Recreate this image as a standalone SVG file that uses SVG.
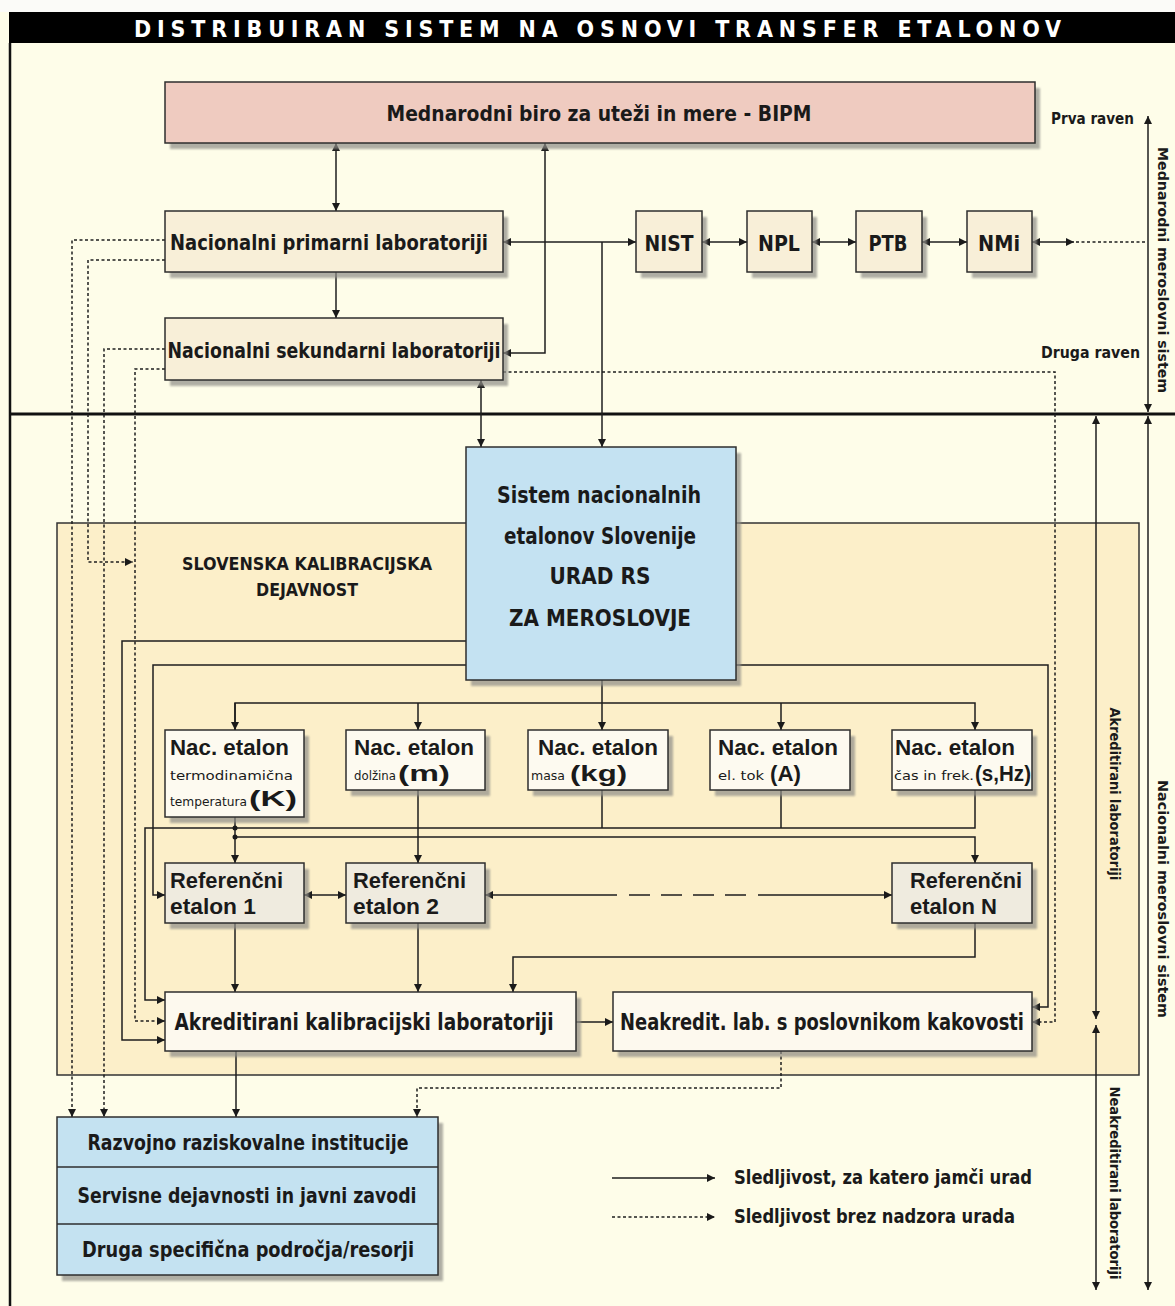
<svg xmlns="http://www.w3.org/2000/svg" width="1175" height="1306" viewBox="0 0 1175 1306">
<defs>
<marker id="ah" viewBox="0 0 10 10" refX="10" refY="5" markerWidth="9" markerHeight="8" orient="auto-start-reverse" markerUnits="userSpaceOnUse"><path d="M0,0 L10,5 L0,10 z" fill="#1a1a1a"/></marker>
<filter id="sb" x="-5%" y="-5%" width="110%" height="110%"><feGaussianBlur stdDeviation="1.3"/></filter>
<style>
.bx{stroke:#2e2e2e;stroke-width:1.5}
.sh{fill:#8f8e88;opacity:.7;filter:url(#sb)}
.ln{fill:none;stroke:#1e1e1e;stroke-width:1.5}
.dt{fill:none;stroke:#1e1e1e;stroke-width:1.5;stroke-dasharray:3 2.5}
.cn{font-family:"Liberation Sans Narrow","DejaVu Sans Condensed","Liberation Sans",sans-serif;font-weight:bold;fill:#1a1a1a}
.md{font-family:"Liberation Sans",Arial,sans-serif;font-weight:bold;fill:#1a1a1a}
.sm{font-family:"Liberation Sans Narrow","DejaVu Sans Condensed","Liberation Sans",sans-serif;font-size:13px;fill:#1a1a1a}
.c{text-anchor:middle}
.f20{font-size:22px}
.f21{font-size:23px}
.f22{font-size:22px}
.f14{font-size:14px}
</style>
</defs>
<rect x="0" y="0" width="1175" height="1306" fill="#fefde9"/>
<rect x="0" y="0" width="1175" height="12" fill="#fbfbf8"/>
<!-- title -->
<rect x="9" y="12" width="1166" height="31" fill="#000"/>
<text x="134" y="37" font-family="Liberation Sans Narrow,DejaVu Sans Condensed,Liberation Sans,sans-serif" font-weight="bold" font-size="23" fill="#fff" textLength="927" lengthAdjust="spacing">DISTRIBUIRAN SISTEM NA OSNOVI TRANSFER ETALONOV</text>
<line x1="10" y1="43" x2="10" y2="1306" stroke="#111" stroke-width="2.5"/>
<line x1="9" y1="414" x2="1175" y2="414" stroke="#111" stroke-width="3"/>

<!-- region -->
<g id="region">
<rect x="57" y="523" width="1082" height="552" fill="#fcefc9" stroke="#333" stroke-width="1.5"/>
<text class="cn c" x="307" y="570" font-size="17" textLength="250" lengthAdjust="spacingAndGlyphs">SLOVENSKA KALIBRACIJSKA</text>
<text class="cn c" x="307" y="596" font-size="17" textLength="102" lengthAdjust="spacingAndGlyphs">DEJAVNOST</text>
</g>

<!-- side labels -->
<g id="levels">
<text class="cn" x="1051" y="124" font-size="15" textLength="83" lengthAdjust="spacingAndGlyphs">Prva raven</text>
<text class="cn" x="1041" y="358" font-size="16" textLength="99" lengthAdjust="spacingAndGlyphs">Druga raven</text>
<text class="cn c f14" transform="translate(1158,270) rotate(90)" textLength="246" lengthAdjust="spacingAndGlyphs">Mednarodni meroslovni sistem</text>
<text class="cn c f14" transform="translate(1158,899) rotate(90)" textLength="238" lengthAdjust="spacingAndGlyphs">Nacionalni meroslovni sistem</text>
<text class="cn c f14" transform="translate(1110,794) rotate(90)" textLength="173" lengthAdjust="spacingAndGlyphs">Akreditirani laboratoriji</text>
<text class="cn c f14" transform="translate(1110,1183) rotate(90)" textLength="193" lengthAdjust="spacingAndGlyphs">Neakreditirani laboratoriji</text>
</g>

<!-- connectors -->
<g id="connectors">
<path class="ln" d="M1148,116 V412" marker-start="url(#ah)" marker-end="url(#ah)"/>
<path class="ln" d="M1148,416 V1290" marker-start="url(#ah)" marker-end="url(#ah)"/>
<path class="ln" d="M1096,416 V1019" marker-start="url(#ah)" marker-end="url(#ah)"/>
<path class="ln" d="M1096,1025 V1290" marker-start="url(#ah)" marker-end="url(#ah)"/>

<path class="ln" d="M336,143 V211" marker-start="url(#ah)" marker-end="url(#ah)"/>
<path class="ln" d="M545,143 V353 H503" marker-start="url(#ah)" marker-end="url(#ah)"/>
<path class="ln" d="M503,242 H636" marker-start="url(#ah)" marker-end="url(#ah)"/>
<path class="ln" d="M602,242 V447" marker-end="url(#ah)"/>
<path class="ln" d="M702,242 H747" marker-start="url(#ah)" marker-end="url(#ah)"/>
<path class="ln" d="M812,242 H856" marker-start="url(#ah)" marker-end="url(#ah)"/>
<path class="ln" d="M922,242 H967" marker-start="url(#ah)" marker-end="url(#ah)"/>
<path class="ln" d="M1032,242 H1074" marker-start="url(#ah)" marker-end="url(#ah)"/>
<path class="dt" d="M1076,242 H1147"/>
<path class="ln" d="M336,272 V318" marker-end="url(#ah)"/>
<path class="ln" d="M481,380 V447" marker-start="url(#ah)" marker-end="url(#ah)"/>

<path class="dt" d="M165,240 H72 V1117" marker-end="url(#ah)"/>
<path class="dt" d="M165,260 H88 V562 H133" marker-end="url(#ah)"/>
<path class="dt" d="M165,349 H104 V1117" marker-end="url(#ah)"/>
<path class="dt" d="M165,369 H135 V1021 H165" marker-end="url(#ah)"/>
<path class="dt" d="M503,372 H1055 V1022 H1032" marker-end="url(#ah)"/>
<path class="dt" d="M781,1051 V1088 H417 V1117" marker-end="url(#ah)"/>

<path class="ln" d="M466,641 H122 V1040 H165" marker-end="url(#ah)"/>
<path class="ln" d="M466,665 H153 V895 H165" marker-end="url(#ah)"/>
<path class="ln" d="M736,665 H1048 V1007 H1032" marker-end="url(#ah)"/>

<path class="ln" d="M602,680 V730" marker-end="url(#ah)"/>
<path class="ln" d="M235,730 V703 H975 V730" marker-end="url(#ah)"/>
<path class="ln" d="M235,703 V730" marker-end="url(#ah)"/>
<path class="ln" d="M418,703 V730" marker-end="url(#ah)"/>
<path class="ln" d="M781,703 V730" marker-end="url(#ah)"/>

<path class="ln" d="M235,817 V863" marker-end="url(#ah)"/>
<path class="ln" d="M418,790 V863" marker-end="url(#ah)"/>
<path class="ln" d="M602,790 V828"/>
<path class="ln" d="M781,790 V828"/>
<path class="ln" d="M975,790 V828 H145 V1000 H165" marker-end="url(#ah)"/>
<path class="ln" d="M235,837 H975 V863" marker-end="url(#ah)"/>
<circle cx="235" cy="828" r="2.5" fill="#1a1a1a"/>
<circle cx="235" cy="837" r="2.5" fill="#1a1a1a"/>

<path class="ln" d="M304,895 H346" marker-start="url(#ah)" marker-end="url(#ah)"/>
<path class="ln" d="M485,895 H617" marker-start="url(#ah)"/>
<path class="ln" d="M629,895 H750" style="stroke-dasharray:21 11"/>
<path class="ln" d="M758,895 H892" marker-end="url(#ah)"/>

<path class="ln" d="M235,923 V992" marker-end="url(#ah)"/>
<path class="ln" d="M418,923 V992" marker-end="url(#ah)"/>
<path class="ln" d="M975,923 V957 H513 V992" marker-end="url(#ah)"/>
<path class="ln" d="M576,1022 H613" marker-end="url(#ah)"/>
<path class="ln" d="M236,1051 V1117" marker-end="url(#ah)"/>

<path class="ln" d="M612,1178 H715" marker-end="url(#ah)"/>
<path class="dt" d="M612,1217 H715" marker-end="url(#ah)"/>
</g>

<!-- nodes -->
<g id="bipm">
<rect class="sh" x="170" y="88" width="870" height="61"/>
<rect class="bx" x="165" y="82" width="870" height="61" fill="#efcbc0"/>
<text class="cn c f20" x="599" y="121" textLength="425" lengthAdjust="spacingAndGlyphs">Mednarodni biro za uteži in mere - BIPM</text>
</g>
<g id="primarni">
<rect class="sh" x="170" y="217" width="338" height="61"/>
<rect class="bx" x="165" y="211" width="338" height="61" fill="#f8efd8"/>
<text class="cn c f20" x="329" y="250" textLength="318" lengthAdjust="spacingAndGlyphs">Nacionalni primarni laboratoriji</text>
</g>
<g id="sekundarni">
<rect class="sh" x="170" y="324" width="338" height="62"/>
<rect class="bx" x="165" y="318" width="338" height="62" fill="#f8efd8"/>
<text class="cn c f20" x="334" y="358" textLength="333" lengthAdjust="spacingAndGlyphs">Nacionalni sekundarni laboratoriji</text>
</g>
<g id="nist">
<rect class="sh" x="641" y="217" width="66" height="61"/>
<rect class="bx" x="636" y="211" width="66" height="61" fill="#f8efd8"/>
<text class="cn c f20" x="669" y="251" textLength="49" lengthAdjust="spacingAndGlyphs">NIST</text>
</g>
<g id="npl">
<rect class="sh" x="752" y="217" width="65" height="61"/>
<rect class="bx" x="747" y="211" width="65" height="61" fill="#f8efd8"/>
<text class="cn c f20" x="779" y="251" textLength="42" lengthAdjust="spacingAndGlyphs">NPL</text>
</g>
<g id="ptb">
<rect class="sh" x="861" y="217" width="66" height="61"/>
<rect class="bx" x="856" y="211" width="66" height="61" fill="#f8efd8"/>
<text class="cn c f20" x="888" y="251" textLength="39" lengthAdjust="spacingAndGlyphs">PTB</text>
</g>
<g id="nmi">
<rect class="sh" x="972" y="217" width="65" height="61"/>
<rect class="bx" x="967" y="211" width="65" height="61" fill="#f8efd8"/>
<text class="cn c f20" x="999" y="251" textLength="42" lengthAdjust="spacingAndGlyphs">NMi</text>
</g>
<g id="urad">
<rect class="sh" x="471" y="453" width="270" height="233"/>
<rect class="bx" x="466" y="447" width="270" height="233" fill="#c4e2f2"/>
<text class="cn c f21" x="599" y="503" textLength="204" lengthAdjust="spacingAndGlyphs">Sistem nacionalnih</text>
<text class="cn c f21" x="600" y="544" textLength="192" lengthAdjust="spacingAndGlyphs">etalonov Slovenije</text>
<text class="cn c f21" x="600" y="584" textLength="101" lengthAdjust="spacingAndGlyphs">URAD RS</text>
<text class="cn c f21" x="600" y="626" textLength="182" lengthAdjust="spacingAndGlyphs">ZA MEROSLOVJE</text>
</g>

<g id="etalon-k">
<rect class="sh" x="170" y="736" width="139" height="87"/>
<rect class="bx" x="165" y="730" width="139" height="87" fill="#fdfaf0"/>
<text class="md f20" x="170" y="755" textLength="119" lengthAdjust="spacingAndGlyphs">Nac. etalon</text>
<text class="sm" x="170" y="780" textLength="123" lengthAdjust="spacingAndGlyphs">termodinamična</text>
<text class="sm" x="170" y="806" textLength="77" lengthAdjust="spacingAndGlyphs">temperatura</text>
<text class="md f20" x="249" y="806" textLength="48" lengthAdjust="spacingAndGlyphs">(K)</text>
</g>
<g id="etalon-m">
<rect class="sh" x="351" y="736" width="139" height="60"/>
<rect class="bx" x="346" y="730" width="139" height="60" fill="#fdfaf0"/>
<text class="md f20" x="354" y="755" textLength="120" lengthAdjust="spacingAndGlyphs">Nac. etalon</text>
<text class="sm" x="354" y="780" textLength="42" lengthAdjust="spacingAndGlyphs">dolžina</text>
<text class="md f20" x="398" y="781" textLength="52" lengthAdjust="spacingAndGlyphs">(m)</text>
</g>
<g id="etalon-kg">
<rect class="sh" x="533" y="736" width="140" height="60"/>
<rect class="bx" x="528" y="730" width="140" height="60" fill="#fdfaf0"/>
<text class="md f20" x="538" y="755" textLength="120" lengthAdjust="spacingAndGlyphs">Nac. etalon</text>
<text class="sm" x="531" y="780" textLength="34" lengthAdjust="spacingAndGlyphs">masa</text>
<text class="md f20" x="570" y="781" textLength="57" lengthAdjust="spacingAndGlyphs">(kg)</text>
</g>
<g id="etalon-a">
<rect class="sh" x="715" y="736" width="140" height="60"/>
<rect class="bx" x="710" y="730" width="140" height="60" fill="#fdfaf0"/>
<text class="md f20" x="718" y="755" textLength="120" lengthAdjust="spacingAndGlyphs">Nac. etalon</text>
<text class="sm" x="718" y="780" textLength="46" lengthAdjust="spacingAndGlyphs">el. tok</text>
<text class="md f20" x="770" y="781" textLength="31" lengthAdjust="spacingAndGlyphs">(A)</text>
</g>
<g id="etalon-s">
<rect class="sh" x="897" y="736" width="140" height="60"/>
<rect class="bx" x="892" y="730" width="140" height="60" fill="#fdfaf0"/>
<text class="md f20" x="895" y="755" textLength="120" lengthAdjust="spacingAndGlyphs">Nac. etalon</text>
<text class="sm" x="894" y="780" textLength="80" lengthAdjust="spacingAndGlyphs">čas in frek.</text>
<text class="md f20" x="975" y="781" textLength="56" lengthAdjust="spacingAndGlyphs">(s,Hz)</text>
</g>

<g id="ref1">
<rect class="sh" x="170" y="869" width="139" height="60"/>
<rect class="bx" x="165" y="863" width="139" height="60" fill="#efebdf"/>
<text class="md f22" x="170" y="888" textLength="113" lengthAdjust="spacingAndGlyphs">Referenčni</text>
<text class="md f22" x="170" y="914" textLength="86" lengthAdjust="spacingAndGlyphs">etalon 1</text>
</g>
<g id="ref2">
<rect class="sh" x="351" y="869" width="139" height="60"/>
<rect class="bx" x="346" y="863" width="139" height="60" fill="#efebdf"/>
<text class="md f22" x="353" y="888" textLength="113" lengthAdjust="spacingAndGlyphs">Referenčni</text>
<text class="md f22" x="353" y="914" textLength="86" lengthAdjust="spacingAndGlyphs">etalon 2</text>
</g>
<g id="refN">
<rect class="sh" x="897" y="869" width="140" height="60"/>
<rect class="bx" x="892" y="863" width="140" height="60" fill="#efebdf"/>
<text class="md f22" x="910" y="888" textLength="112" lengthAdjust="spacingAndGlyphs">Referenčni</text>
<text class="md f22" x="910" y="914" textLength="87" lengthAdjust="spacingAndGlyphs">etalon N</text>
</g>

<g id="akreditirani">
<rect class="sh" x="170" y="998" width="411" height="59"/>
<rect class="bx" x="165" y="992" width="411" height="59" fill="#fdf9ee"/>
<text class="cn c f21" x="364" y="1030" textLength="379" lengthAdjust="spacingAndGlyphs">Akreditirani kalibracijski laboratoriji</text>
</g>
<g id="neakreditirani">
<rect class="sh" x="618" y="998" width="419" height="59"/>
<rect class="bx" x="613" y="992" width="419" height="59" fill="#fdf9ee"/>
<text class="cn c f21" x="822" y="1030" textLength="404" lengthAdjust="spacingAndGlyphs">Neakredit. lab. s poslovnikom kakovosti</text>
</g>

<g id="uporabniki">
<rect class="sh" x="62" y="1123" width="381" height="158"/>
<rect class="bx" x="57" y="1117" width="381" height="158" fill="#c4e2f1"/>
<line class="bx" x1="57" y1="1167" x2="438" y2="1167"/>
<line class="bx" x1="57" y1="1224" x2="438" y2="1224"/>
<text class="cn c f20" x="248" y="1150" textLength="321" lengthAdjust="spacingAndGlyphs">Razvojno raziskovalne institucije</text>
<text class="cn c f20" x="247" y="1203" textLength="339" lengthAdjust="spacingAndGlyphs">Servisne dejavnosti in javni zavodi</text>
<text class="cn c f20" x="248" y="1257" textLength="332" lengthAdjust="spacingAndGlyphs">Druga specifična področja/resorji</text>
</g>

<g id="legend">
<text class="cn" x="734" y="1184" font-size="19" textLength="298" lengthAdjust="spacingAndGlyphs">Sledljivost, za katero jamči urad</text>
<text class="cn" x="734" y="1223" font-size="19" textLength="281" lengthAdjust="spacingAndGlyphs">Sledljivost brez nadzora urada</text>
</g>
</svg>
